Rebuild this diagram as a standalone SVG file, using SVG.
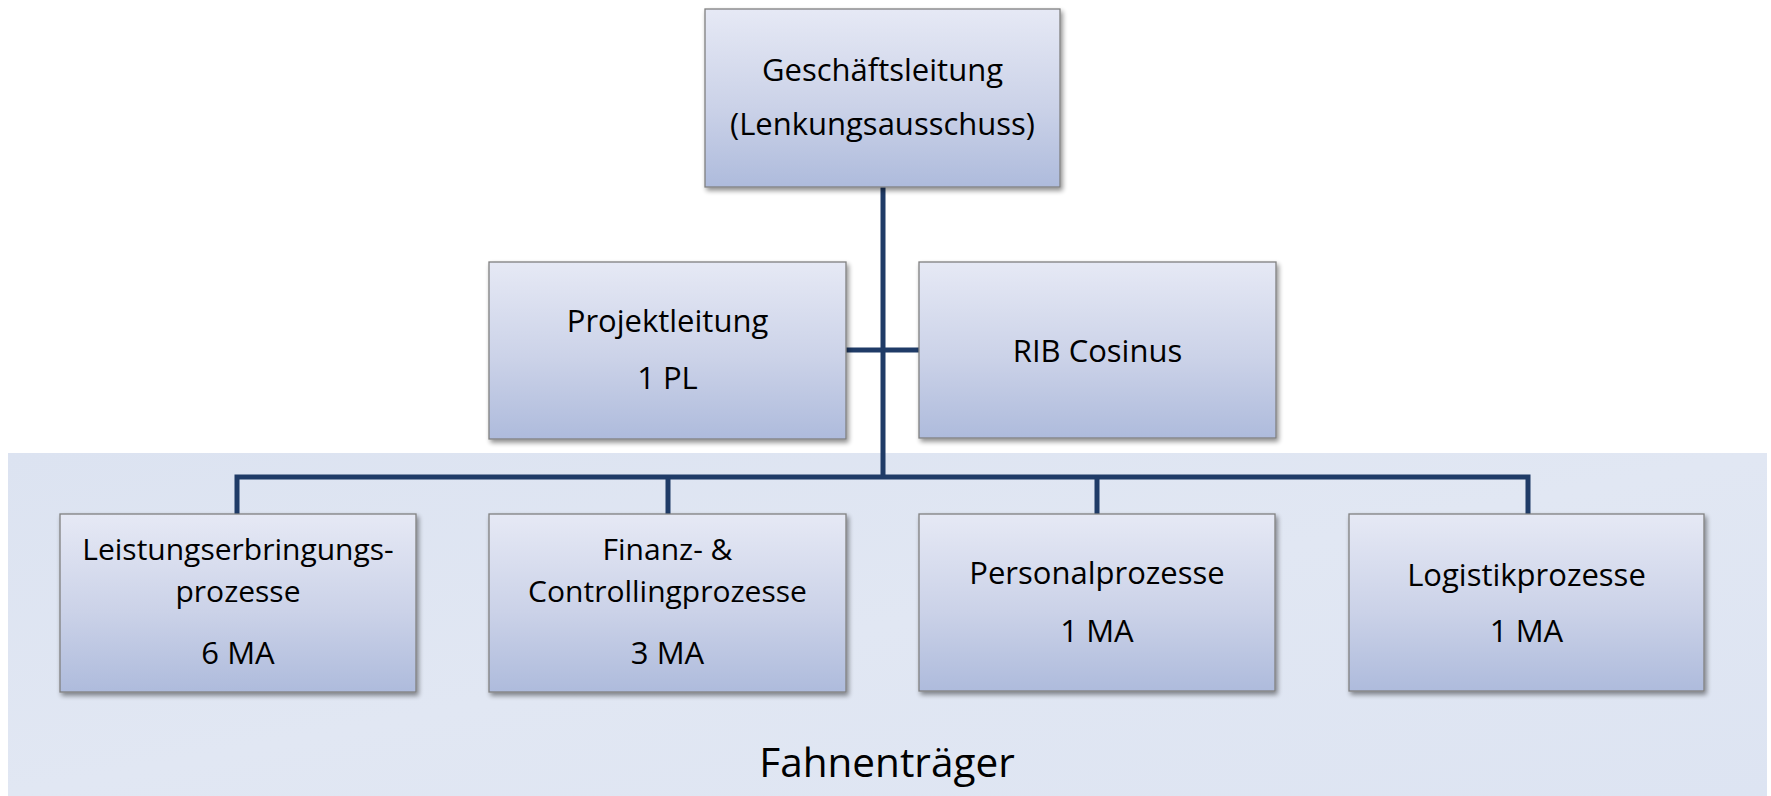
<svg xmlns="http://www.w3.org/2000/svg" width="1771" height="796" viewBox="0 0 1771 796">
<defs>
<linearGradient id="boxg" x1="0" y1="0" x2="0" y2="1">
<stop offset="0" stop-color="#e6e9f5"/>
<stop offset="0.55" stop-color="#cbd2e8"/>
<stop offset="1" stop-color="#aebbdc"/>
</linearGradient>
<linearGradient id="panelg" x1="0" y1="0" x2="1" y2="1">
<stop offset="0" stop-color="#dce3f1"/>
<stop offset="0.5" stop-color="#e1e7f3"/>
<stop offset="1" stop-color="#dde4f2"/>
</linearGradient>
<filter id="sh" x="-5%" y="-5%" width="115%" height="120%">
<feGaussianBlur in="SourceAlpha" stdDeviation="2.5"/>
<feOffset dx="2" dy="3" result="b"/>
<feComponentTransfer><feFuncA type="linear" slope="0.45"/></feComponentTransfer>
<feMerge><feMergeNode/><feMergeNode in="SourceGraphic"/></feMerge>
</filter>
</defs>
<style>
.box{fill:url(#boxg);stroke:#808080;stroke-width:1.3;filter:url(#sh)}
.t{font-family:"Open Sans","Noto Sans",sans-serif;font-size:31px;fill:#000;text-anchor:middle}
.tt{font-size:30px}
.big{font-family:"Open Sans","Noto Sans",sans-serif;font-size:40.5px;fill:#000;text-anchor:middle}
.c{fill:none;stroke:#1f3b67;stroke-width:5}
</style>
<rect width="1771" height="796" fill="#ffffff"/>
<g id="panel">
<rect x="8" y="453" width="1759" height="343" fill="url(#panelg)"/>
<text class="big" x="887" y="777">Fahnenträger</text>
</g>
<g id="connectors">
<path class="c" d="M883 187 V477"/>
<path class="c" d="M846 350 H919"/>
<path class="c" d="M237 514 V477 H1528 V514"/>
<path class="c" d="M668 477 V514"/>
<path class="c" d="M1097 477 V514"/>
</g>
<g id="geschaeftsleitung">
<rect class="box" x="705" y="9" width="355" height="178"/>
<text class="t" x="882.5" y="81">Geschäftsleitung</text>
<text class="t" x="882.5" y="135">(Lenkungsausschuss)</text>
</g>
<g id="projektleitung">
<rect class="box" x="489" y="262" width="357" height="177"/>
<text class="t" x="667.5" y="332">Projektleitung</text>
<text class="t" x="667.5" y="389">1 PL</text>
</g>
<g id="rib">
<rect class="box" x="919" y="262" width="357" height="176"/>
<text class="t" x="1097.5" y="362">RIB Cosinus</text>
</g>
<g id="leistung">
<rect class="box" x="60" y="514" width="356" height="178"/>
<text class="t tt" x="238" y="560">Leistungserbringungs-</text>
<text class="t tt" x="238" y="602">prozesse</text>
<text class="t" x="238" y="664">6 MA</text>
</g>
<g id="finanz">
<rect class="box" x="489" y="514" width="357" height="178"/>
<text class="t tt" x="667.5" y="560">Finanz- &amp;</text>
<text class="t tt" x="667.5" y="602">Controllingprozesse</text>
<text class="t" x="667.5" y="664">3 MA</text>
</g>
<g id="personal">
<rect class="box" x="919" y="514" width="356" height="177"/>
<text class="t" x="1097" y="584">Personalprozesse</text>
<text class="t" x="1097" y="642">1 MA</text>
</g>
<g id="logistik">
<rect class="box" x="1349" y="514" width="355" height="177"/>
<text class="t" x="1526.5" y="586">Logistikprozesse</text>
<text class="t" x="1526.5" y="642">1 MA</text>
</g>
</svg>
